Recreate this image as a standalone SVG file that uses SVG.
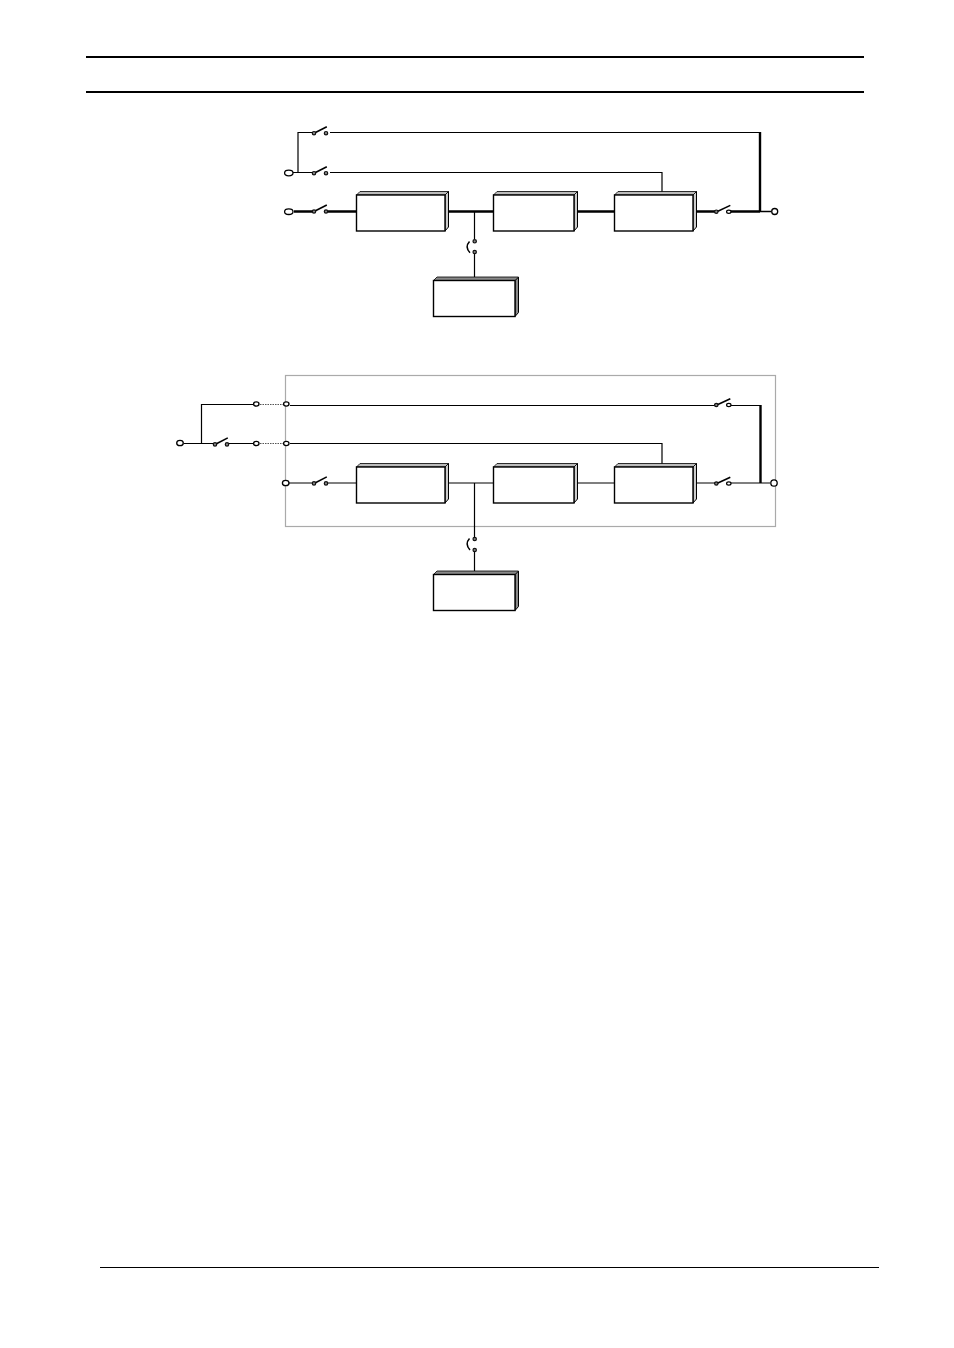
<svg xmlns="http://www.w3.org/2000/svg" width="954" height="1348" viewBox="0 0 954 1348">
<defs>
<style>
.w{stroke:#000;stroke-width:1.2;fill:none}
.t{stroke:#000;stroke-width:2.4;fill:none}
.h{stroke:#000;stroke-width:1.5;fill:none}
.b{stroke:#000;stroke-width:1.6;fill:none}
.tm{fill:#fff;stroke:#000;stroke-width:1.3}
.d{fill:#888;stroke:#111;stroke-width:1.2}
.f{fill:#fff;stroke:#000;stroke-width:1.4}
.s{fill:#ccc;stroke:#000;stroke-width:1}
.u{fill:#bbb;stroke:#000;stroke-width:.8}
.s2{fill:#888;stroke:#000;stroke-width:1}
.u2{fill:#888;stroke:#000;stroke-width:.8}
</style>
<g id="sw">
<line x1="-5.500" y1="0.500" x2="6.800" y2="-5.800" class="b"/>
<circle cx="-6" cy="0.700" r="1.700" class="d"/>
<circle cx="6" cy="0.700" r="1.700" class="d"/>
</g>
<g id="swr">
<line x1="-6" y1="0.500" x2="7.500" y2="-5.800" class="b"/>
<circle cx="-6.500" cy="0.500" r="1.700" class="d"/>
<ellipse cx="6" cy="0.500" rx="2.200" ry="1.600" fill="#fff" stroke="#000" stroke-width="1.200"/>
</g>
<g id="box88">
<path d="M88.500 3.500 L92 0 V35.500 L88.500 39.500 Z" class="s"/>
<path d="M0 3.500 L3.500 0 H92 L88.500 3.500 Z" class="u"/>
<rect y="3.500" width="88.500" height="36" class="f"/>
</g>
<g id="box80">
<path d="M80.500 3.500 L84 0 V35.500 L80.500 39.500 Z" class="s"/>
<path d="M0 3.500 L3.500 0 H84 L80.500 3.500 Z" class="u"/>
<rect y="3.500" width="80.500" height="36" class="f"/>
</g>
<g id="box78">
<path d="M78.500 3.500 L82 0 V35.500 L78.500 39.500 Z" class="s"/>
<path d="M0 3.500 L3.500 0 H82 L78.500 3.500 Z" class="u"/>
<rect y="3.500" width="78.500" height="36" class="f"/>
</g>
<g id="box82">
<path d="M81.500 3.500 L85 0 V35.500 L81.500 39.500 Z" class="s2"/>
<path d="M0 3.500 L3.500 0 H85 L81.500 3.500 Z" class="u2"/>
<rect y="3.500" width="81.500" height="36" class="f"/>
</g>
</defs>
<rect width="954" height="1348" fill="#fff"/>
<g id="page-rules">
<line x1="86" y1="57" x2="864" y2="57" stroke="#000" stroke-width="2"/>
<line x1="86" y1="92" x2="864" y2="92" stroke="#000" stroke-width="2"/>
<line x1="100" y1="1267.500" x2="879" y2="1267.500" stroke="#000" stroke-width="1"/>
</g>
<rect id="enclosure" x="285.500" y="375.500" width="490" height="151" fill="none" stroke="#aaa" stroke-width="1.200"/>
<g id="connectors">
<path class="w" d="M293 172.500H298V132.500H314M330 132.500H760"/>
<path class="w" d="M293 172.500H314M330 172.500H662V193"/>
<path class="t" d="M294 211.500H314M328 211.500H356M448 211.500H493M578 211.500H614M697 211.500H716M731 211.500H760"/>
<path class="h" d="M760 211.500H771"/>
<path class="t" d="M760 132V212"/>
<path class="w" d="M474.500 212V239M474.500 254V277"/>
<path class="w" d="M184 443.500H214M229 443.500H253M201.500 443.500V404.500H253"/>
<path d="M260 404.500H283M260 443.500H283" stroke="#555" stroke-width="1" stroke-dasharray="1.500 1" fill="none"/>
<path class="w" d="M290 405.500H716M731 405.500H760M290 443.500H662V464"/>
<path class="w" d="M289 483H314M328 483H356M448 483H493M578 483H614M697 483H716M731 483H770"/>
<path d="M760.500 405V483" stroke="#000" stroke-width="2.400" fill="none"/>
<path class="w" d="M474.500 483V537M474.500 552V571"/>
</g>
<g id="top-input-a"><ellipse cx="288.800" cy="173" rx="4.200" ry="2.800" class="tm"/></g>
<g id="top-input-b"><ellipse cx="288.800" cy="211.700" rx="4.200" ry="2.800" class="tm"/></g>
<g id="top-output"><circle cx="774.700" cy="211.500" r="3" class="tm"/></g>
<g id="top-sw-1"><use href="#sw" x="320" y="132.500"/></g>
<g id="top-sw-2"><use href="#sw" x="320" y="172.500"/></g>
<g id="top-sw-3"><use href="#sw" x="320" y="210.800"/></g>
<g id="top-sw-4"><use href="#swr" x="722.800" y="211.200"/></g>
<g id="top-sw-5"><circle cx="474.700" cy="241.300" r="1.700" class="d"/><circle cx="474.700" cy="252" r="1.700" class="d"/><path d="M469.500 241.500Q464.500 247 470 252.700" class="h"/></g>
<use id="top-box-1" href="#box88" x="356.500" y="191.500"/>
<use id="top-box-2" href="#box80" x="493.500" y="191.500"/>
<use id="top-box-3" href="#box78" x="614.500" y="191.500"/>
<use id="top-box-4" href="#box82" x="433.500" y="277"/>
<g id="bot-input"><ellipse cx="180" cy="443" rx="3.300" ry="2.700" class="tm"/></g>
<g id="bot-link-a"><ellipse cx="256.300" cy="404" rx="2.700" ry="2.100" class="tm"/></g>
<g id="bot-link-b"><ellipse cx="256.300" cy="443.500" rx="2.700" ry="2.100" class="tm"/></g>
<g id="bot-term-a"><ellipse cx="286.300" cy="404" rx="2.700" ry="2.100" class="tm"/></g>
<g id="bot-term-b"><ellipse cx="286.300" cy="443.500" rx="2.700" ry="2.100" class="tm"/></g>
<g id="bot-term-c"><ellipse cx="285.700" cy="483" rx="3.300" ry="2.700" class="tm"/></g>
<g id="bot-output"><circle cx="774" cy="483" r="3.200" class="tm"/></g>
<g id="bot-sw-1"><use href="#sw" x="221" y="443.700"/></g>
<g id="bot-sw-2"><use href="#sw" x="320" y="482.700"/></g>
<g id="bot-sw-3"><use href="#swr" x="722.800" y="404.500"/></g>
<g id="bot-sw-4"><use href="#swr" x="722.800" y="483"/></g>
<g id="bot-sw-5"><circle cx="474.700" cy="539" r="1.700" class="d"/><circle cx="474.700" cy="550" r="1.700" class="d"/><path d="M469.500 538.500Q464.500 544 470 550" class="h"/></g>
<use id="bot-box-1" href="#box88" x="356.500" y="463.500"/>
<use id="bot-box-2" href="#box80" x="493.500" y="463.500"/>
<use id="bot-box-3" href="#box78" x="614.500" y="463.500"/>
<use id="bot-box-4" href="#box82" x="433.500" y="571"/>
</svg>
